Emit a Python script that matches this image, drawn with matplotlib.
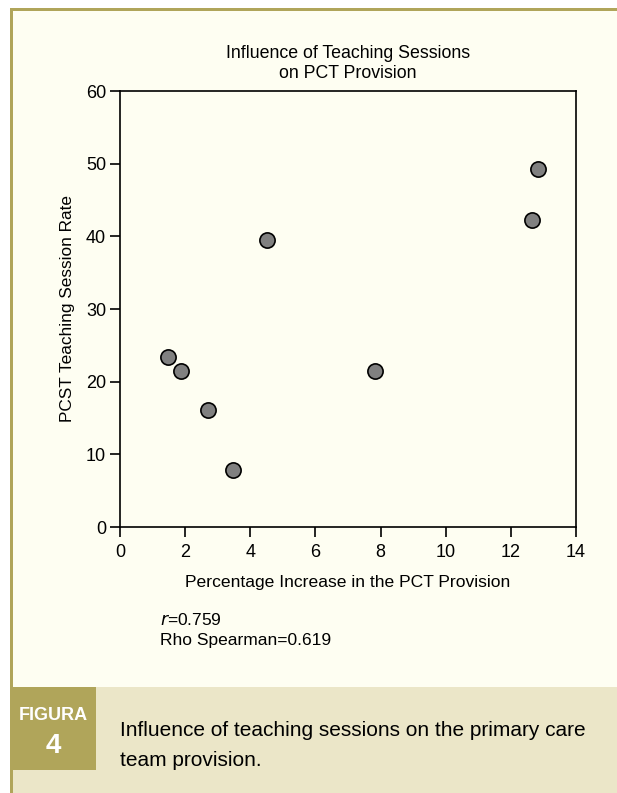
import matplotlib
matplotlib.use("Agg")
import matplotlib.pyplot as plt
from matplotlib.patches import Rectangle
from matplotlib import font_manager

names = {f.name for f in font_manager.fontManager.ttflist}
narrow = 'Liberation Sans Narrow' if 'Liberation Sans Narrow' in names else 'Liberation Sans'
plt.rcParams['font.family'] = [narrow, 'DejaVu Sans']

# Data
x_vals = [1.47, 1.87, 2.70, 3.47, 4.51, 7.83, 12.65, 12.83]
y_vals = [23.4, 21.5, 16.1, 7.8, 39.5, 21.5, 42.2, 49.3]
x_ticks = [0, 2, 4, 6, 8, 10, 12, 14]
y_ticks = [0, 10, 20, 30, 40, 50, 60]

W, H = 617, 793
fig = plt.figure(figsize=(W / 100, H / 100), dpi=100)
fig.patch.set_facecolor('white')

def px(x0, y0, w, h, z, **kw):
    fig.patches.append(Rectangle((x0 / W, 1 - (y0 + h) / H), w / W, h / H,
                                 transform=fig.transFigure, zorder=z, **kw))

olive = '#B0A55A'
px(10, 8, 607, 785, -10, facecolor='#FEFEF2', edgecolor='none')
px(12, 687, 605, 106, -9, facecolor='#EBE6C8', edgecolor='none')
px(10, 8, 607, 3, -8, facecolor=olive, edgecolor='none')
px(10, 8, 3, 785, -8, facecolor=olive, edgecolor='none')
px(10, 687, 86, 83, -8, facecolor=olive, edgecolor='none')

ax = fig.add_axes([120 / W, 1 - 527 / H, 456 / W, 436 / H])
ax.set_facecolor('#FEFEF2')
ax.scatter(x_vals, y_vals, s=120, c='#808080', edgecolors='black', linewidths=1.2, zorder=3, clip_on=False)
ax.set_xlim(0, 14)
ax.set_ylim(0, 60)
ax.set_xticks(x_ticks)
ax.set_yticks(y_ticks)
ax.tick_params(direction='out', length=7, width=1.2, labelsize=13, colors='black')
ax.tick_params(axis='x', pad=5)
ax.tick_params(axis='y', pad=3)
for s in ax.spines.values():
    s.set_linewidth(1.2)
ax.set_xlabel('Percentage Increase in the PCT Provision', fontsize=12.6, labelpad=10)
ax.set_ylabel('PCST Teaching Session Rate', fontsize=12.4, labelpad=8)
ax.set_title('Influence of Teaching Sessions\non PCT Provision', fontsize=12.8, linespacing=1.25, pad=9)

fig.text(160 / W, 1 - 620 / H, r'$\it{r}$=0.759', fontsize=12.5, va='center', ha='left')
fig.text(160 / W, 1 - 640 / H, 'Rho Spearman=0.619', fontsize=12.5, va='center', ha='left')

fig.text(53 / W, 1 - 716 / H, 'FIGURA', fontsize=13, fontweight='bold', color='white', ha='center', va='center')
fig.text(53 / W, 1 - 746 / H, '4', fontsize=20, fontweight='bold', color='white', ha='center', va='center')
fig.text(120 / W, 1 - 731 / H, 'Influence of teaching sessions on the primary care', fontsize=15, ha='left', va='center')
fig.text(120 / W, 1 - 760 / H, 'team provision.', fontsize=15, ha='left', va='center')

fig.savefig('out.png', dpi=100)
